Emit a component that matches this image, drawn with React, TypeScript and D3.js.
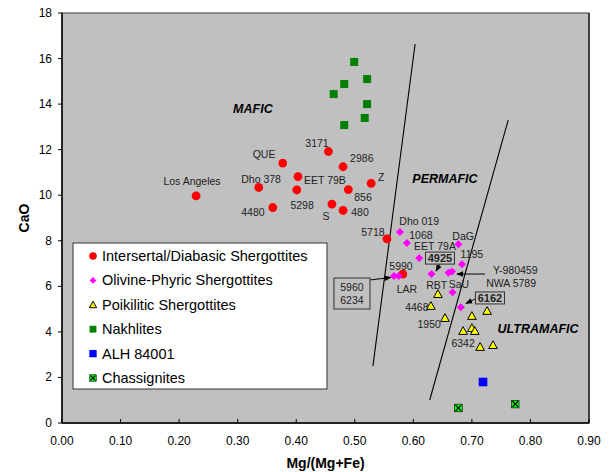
import React from "react";
import * as d3 from "d3";

// Mg/(Mg+Fe) vs CaO for Martian meteorites
const intersertal = [
  [0.229, 9.97], [0.377, 11.41], [0.455, 11.92], [0.48, 11.25], [0.336, 10.34],
  [0.403, 10.82], [0.401, 10.23], [0.528, 10.52], [0.489, 10.25], [0.36, 9.46],
  [0.461, 9.61], [0.48, 9.33], [0.555, 8.08], [0.582, 6.54],
];
const olivinePhyric = [
  [0.577, 8.38], [0.589, 7.9], [0.61, 7.24], [0.677, 7.85], [0.683, 6.97],
  [0.567, 6.45], [0.575, 6.45], [0.631, 6.54], [0.66, 6.6], [0.666, 6.65],
  [0.667, 5.74], [0.681, 5.08],
];
const poikilitic = [
  [0.642, 5.66], [0.63, 5.14], [0.654, 4.61], [0.7, 4.7], [0.726, 4.92],
  [0.685, 4.04], [0.7, 4.17], [0.705, 4.04], [0.714, 3.34], [0.736, 3.42],
];
const nakhlites = [
  [0.499, 15.85], [0.521, 15.1], [0.482, 14.88], [0.464, 14.44],
  [0.521, 14.0], [0.517, 13.39], [0.482, 13.08],
];
const alh84001 = [[0.719, 1.8]];
const chassignites = [[0.677, 0.66], [0.774, 0.83]];

const boundaryLines = [
  [[0.531, 2.5], [0.603, 16.64]],
  [[0.628, 1.01], [0.762, 13.3]],
];

const pointLabels: [string, number, number][] = [
  ["3171", 0.4355, 12.29], ["QUE", 0.345, 11.81], ["2986", 0.512, 11.63],
  ["Los Angeles", 0.222, 10.62], ["Dho 378", 0.34, 10.71], ["EET 79B", 0.449, 10.67],
  ["Z", 0.545, 10.8], ["856", 0.514, 9.92], ["5298", 0.41, 9.57],
  ["4480", 0.326, 9.26], ["S", 0.451, 9.09], ["480", 0.509, 9.26],
  ["5718", 0.531, 8.38], ["Dho 019", 0.61, 8.87], ["1068", 0.613, 8.25],
  ["EET 79A", 0.637, 7.77], ["DaG", 0.685, 8.21], ["1195", 0.7, 7.42],
  ["5990", 0.579, 6.89], ["LAR", 0.589, 5.88], ["RBT", 0.64, 6.06],
  ["SaU", 0.678, 6.1], ["4468", 0.606, 5.09], ["1950", 0.627, 4.35],
  ["6342", 0.685, 3.51], ["Y-980459", 0.774, 6.72], ["NWA 5789", 0.767, 6.15],
];

const fieldLabels: [string, number, number][] = [
  ["MAFIC", 0.326, 13.78],
  ["PERMAFIC", 0.654, 10.71],
  ["ULTRAMAFIC", 0.813, 4.13],
];

// boxed callouts: lines of text, centre, bold
const boxes = [
  { lines: ["4925"], x: 0.6455, y: 7.24, bold: true },
  { lines: ["6162"], x: 0.7309, y: 5.49, bold: true },
  { lines: ["5960", "6234"], x: 0.4952, y: 5.685, bold: false },
];

const arrows = [
  [[0.6455, 6.98], [0.6387, 6.67]],
  [[0.7053, 5.44], [0.6899, 5.25]],
  [[0.526, 6.28], [0.5618, 6.39]],
  [[0.7223, 6.54], [0.6745, 6.54]],
];

const xTicks = d3.range(0, 0.91, 0.1);
const yTicks = d3.range(0, 19, 2);

const legendItems = [
  "Intersertal/Diabasic Shergottites",
  "Olivine-Phyric Shergottites",
  "Poikilitic Shergottites",
  "Nakhlites",
  "ALH 84001",
  "Chassignites",
];

const W = 609;
const H = 472;
const FONT = "'Liberation Sans', Arial, sans-serif";

function Marker({ kind, cx, cy, s = 1 }: { kind: number; cx: number; cy: number; s?: number }) {
  if (kind === 0) return <circle cx={cx} cy={cy} r={4.4 * s} fill="#FF0000" />;
  if (kind === 1) {
    const r = 4 * s;
    return <path d={`M${cx},${cy - r}L${cx + r},${cy}L${cx},${cy + r}L${cx - r},${cy}Z`} fill="#FF00FF" />;
  }
  if (kind === 2) {
    const r = 4.3 * s;
    return (
      <path
        d={`M${cx},${cy - r}L${cx + r},${cy + r * 0.8}L${cx - r},${cy + r * 0.8}Z`}
        fill="#FFFF00" stroke="#000" strokeWidth={1}
      />
    );
  }
  if (kind === 3) {
    const r = 4 * s;
    return <rect x={cx - r} y={cy - r} width={2 * r} height={2 * r} fill="#008000" />;
  }
  if (kind === 4) {
    const r = 4.3 * s;
    return <rect x={cx - r} y={cy - r} width={2 * r} height={2 * r} fill="#0000FF" />;
  }
  const r = 3.8 * s;
  const k = r * 0.75;
  return (
    <g>
      <rect x={cx - r} y={cy - r} width={2 * r} height={2 * r} fill="#00FF00" stroke="#000" strokeWidth={0.6} />
      <path d={`M${cx - k},${cy - k}L${cx + k},${cy + k}M${cx + k},${cy - k}L${cx - k},${cy + k}`} stroke="#000" strokeWidth={1.2} />
    </g>
  );
}

export default function App() {
  const x = d3.scaleLinear().domain([0, 0.9]).range([62, 589]);
  const y = d3.scaleLinear().domain([0, 18]).range([423, 13]);
  const line = d3.line<number[]>().x((d) => x(d[0])).y((d) => y(d[1]));
  const series = [intersertal, olivinePhyric, poikilitic, nakhlites, alh84001, chassignites];

  return (
    <svg
      width={W}
      height={H}
      style={{ position: "absolute", left: 0, top: 0, background: "#fff" }}
      fontFamily={FONT}
    >
      <defs>
        <marker id="ah" viewBox="0 0 10 10" refX="9" refY="5" markerWidth="7" markerHeight="7" orient="auto">
          <path d="M0,1L10,5L0,9Z" fill="#000" />
        </marker>
      </defs>

      <rect x={x(0)} y={y(18)} width={x(0.9) - x(0)} height={y(0) - y(18)} fill="#C0C0C0" stroke="#555" strokeWidth={1.2} />

      {/* boundary lines */}
      {boundaryLines.map((l, i) => (
        <path key={i} d={line(l) || ""} stroke="#000" strokeWidth={1.1} fill="none" />
      ))}

      {/* field labels */}
      {fieldLabels.map(([t, a, b]) => (
        <text key={t} x={x(a)} y={y(b)} textAnchor="middle" dominantBaseline="central"
          fontSize={12.5} fontWeight="bold" fontStyle="italic" fill="#000">{t}</text>
      ))}

      {/* point labels */}
      {pointLabels.map(([t, a, b]) => (
        <text key={t} x={x(a)} y={y(b)} textAnchor="middle" dominantBaseline="central"
          fontSize={10.5} fill="#222">{t}</text>
      ))}

      {/* callout arrows */}
      {arrows.map((a, i) => (
        <path key={i} d={line(a) || ""} stroke="#000" strokeWidth={1} markerEnd="url(#ah)" />
      ))}

      {/* data points */}
      {series.map((pts, k) => pts.map((p, i) => (
        <Marker key={`${k}-${i}`} kind={k} cx={x(p[0])} cy={y(p[1])} />
      )))}

      {/* boxed callouts */}
      {boxes.map((b, i) => {
        const w = b.lines.length > 1 ? 36 : 29;
        const h = b.lines.length > 1 ? 31 : 12;
        const cx = x(b.x);
        const cy = y(b.y);
        return (
          <g key={i}>
            <rect x={cx - w / 2} y={cy - h / 2} width={w} height={h} fill="#C0C0C0" stroke="#333" strokeWidth={1} />
            {b.lines.map((t, j) => (
              <text key={j} x={cx} y={cy + (j - (b.lines.length - 1) / 2) * 13} textAnchor="middle"
                dominantBaseline="central" fontSize={b.bold ? 11 : 10.5} fontWeight={b.bold ? "bold" : "normal"}
                fill="#222">{t}</text>
            ))}
          </g>
        );
      })}

      {/* axes */}
      <line x1={x(0)} x2={x(0)} y1={y(0)} y2={y(18)} stroke="#000" strokeWidth={1.5} />
      <line x1={x(0)} x2={x(0.9)} y1={y(0)} y2={y(0)} stroke="#000" strokeWidth={1.5} />
      <line x1={x(0.9)} x2={x(0.9)} y1={y(0)} y2={y(18)} stroke="#111" strokeWidth={1.2} />
      {yTicks.map((t) => (
        <g key={t}>
          <line x1={x(0) - 4} x2={x(0)} y1={y(t)} y2={y(t)} stroke="#000" />
          <text x={52} y={y(t)} textAnchor="end" dominantBaseline="central" fontSize={12} fill="#000">{t}</text>
        </g>
      ))}
      {xTicks.map((t) => (
        <g key={t}>
          <line x1={x(t)} x2={x(t)} y1={y(0)} y2={y(0) - 4} stroke="#000" />
          <text x={x(t)} y={441} textAnchor="middle" dominantBaseline="central" fontSize={12} fill="#000">{t.toFixed(2)}</text>
        </g>
      ))}
      <text x={(x(0) + x(0.9)) / 2} y={463} textAnchor="middle" dominantBaseline="central"
        fontSize={14} fontWeight="bold">Mg/(Mg+Fe)</text>
      <text transform={`translate(24,${y(9)}) rotate(-90)`} textAnchor="middle" dominantBaseline="central"
        fontSize={14} fontWeight="bold">CaO</text>

      {/* legend */}
      <rect x={73} y={243} width={254} height={146} fill="#fff" stroke="#333" strokeWidth={1} />
      {legendItems.map((t, i) => (
        <g key={t}>
          <Marker kind={i} cx={93} cy={256 + i * 24.4} s={0.85} />
          <text x={102} y={256 + i * 24.4} dominantBaseline="central" fontSize={14.5} fill="#000">{t}</text>
        </g>
      ))}
    </svg>
  );
}
